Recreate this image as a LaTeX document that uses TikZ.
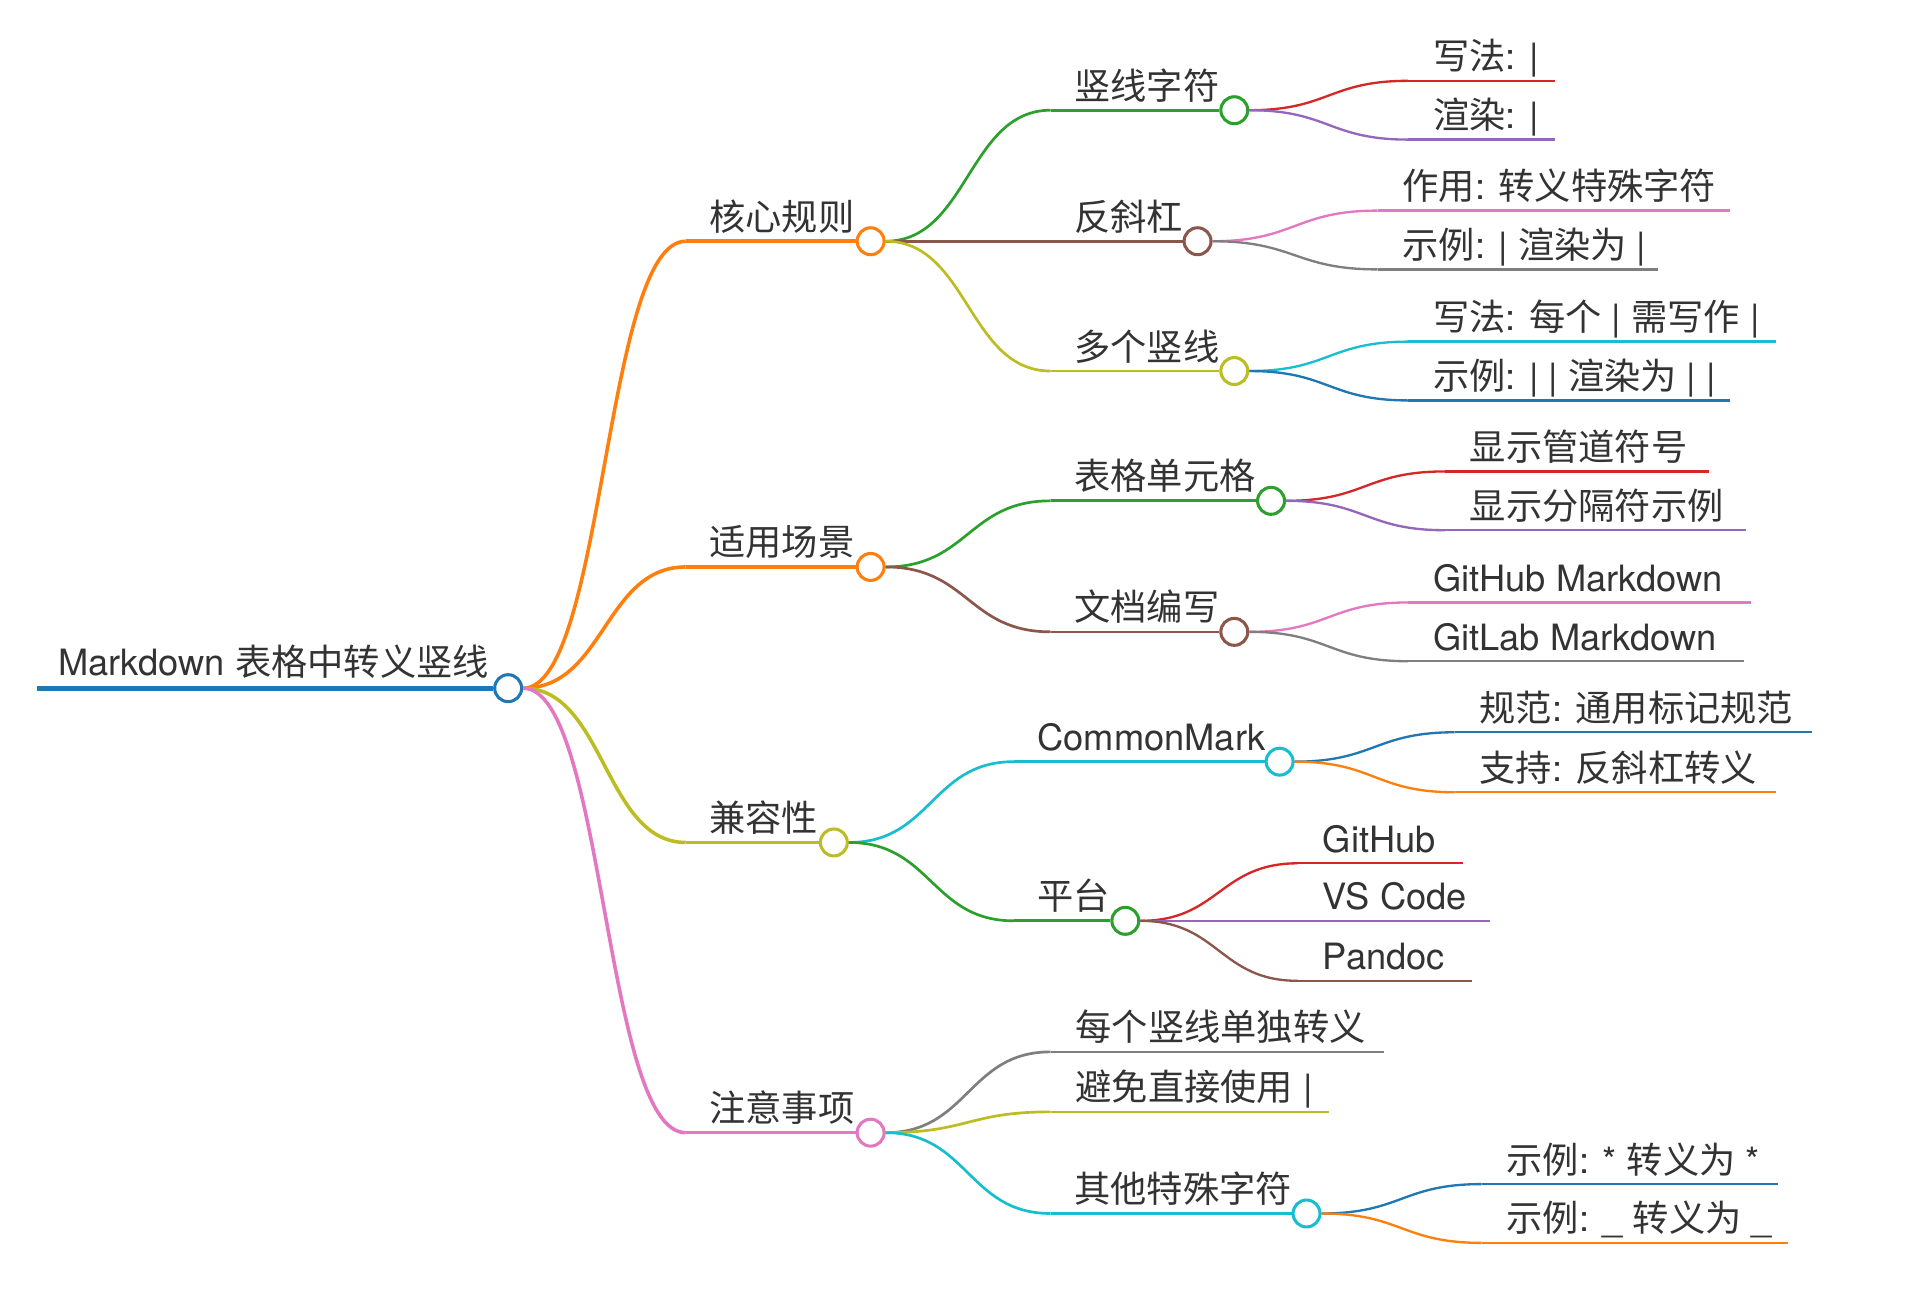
\documentclass[tikz,border=0pt]{standalone}
\usepackage{fontspec}
\setmainfont{TeX Gyre Heros}
\newfontfamily\cjk{Noto Sans CJK SC}
\usetikzlibrary{calc}
\newcommand\zh[1]{{\cjk #1}}
\definecolor{cblue}{HTML}{1F77B4}
\definecolor{corange}{HTML}{FF7F0E}
\definecolor{cgreen}{HTML}{2CA02C}
\definecolor{cred}{HTML}{D62728}
\definecolor{cpurple}{HTML}{9467BD}
\definecolor{cbrown}{HTML}{8C564B}
\definecolor{cpink}{HTML}{E377C2}
\definecolor{cgray}{HTML}{7F7F7F}
\definecolor{colive}{HTML}{BCBD22}
\definecolor{ccyan}{HTML}{17BECF}
\definecolor{tc}{HTML}{333333}
\tikzset{
  dot/.style={circle, fill=white, line width=1.25pt, minimum size=11pt, inner sep=0pt},
  lbl/.style={anchor=base west, inner sep=0pt, font=\fontsize{14.8}{17}\selectfont, text=tc},
}
% name, color, width, start x, circle x, y, text
\newcommand\hub[7]{%
  \coordinate (#1s) at (#4,#6);
  \node[dot, draw=#2] (#1) at (#5,#6) {};
  \draw[#2, line width=#3] (#1s) -- (#1.west);
  \node[lbl] (#1t) at (#4+19,#6-9) {#7};
}
% name, color, width, start x, end x, y, text
\newcommand\leaf[7]{%
  \coordinate (#1s) at (#4,#6);
  \coordinate (#1e) at (#5,#6);
  \draw[#2, line width=#3] (#1s) -- (#1e);
  \node[lbl] (#1t) at (#4+20,#6-9) {#7};
}
% color, width, from, to
\newcommand\link[4]{%
  \draw[#1, line width=#2] let \p1=(#3), \p2=(#4) in
    (\p1) .. controls ({0.5*(\x1+\x2)},\y1) and ({0.5*(\x1+\x2)},\y2) .. (\p2);
}
\begin{document}
\begin{tikzpicture}[x=0.5pt,y=-0.5pt]
\useasboundingbox[fill=white] (0,0) rectangle (1568,1067);
% root
\coordinate (rs) at (30,562);
\node[dot, draw=cblue] (root) at (415,562) {};
\draw[cblue, line width=2.1pt] (rs) -- (root.west);
\node[lbl] (roott) at (47,552) {Markdown \zh{表格中转义竖线}};
% level 1
\hub{a}{corange}{1.45pt}{560}{711}{197}{\zh{核心规则}}
\hub{b}{corange}{1.45pt}{560}{711}{463}{\zh{适用场景}}
\hub{c}{colive}{1.45pt}{560}{681}{688}{\zh{兼容性}}
\hub{d}{cpink}{1.45pt}{560}{711}{925}{\zh{注意事项}}
\link{corange}{1.45pt}{root.east}{as}
\link{corange}{1.45pt}{root.east}{bs}
\link{colive}{1.45pt}{root.east}{cs}
\link{cpink}{1.45pt}{root.east}{ds}
% level 2
\hub{a1}{cgreen}{1.1pt}{858}{1008}{90}{\zh{竖线字符}}
\hub{a2}{cbrown}{1.1pt}{858}{978}{197}{\zh{反斜杠}}
\hub{a3}{colive}{1.1pt}{858}{1008}{303}{\zh{多个竖线}}
\hub{b1}{cgreen}{1.1pt}{858}{1038}{409}{\zh{表格单元格}}
\hub{b2}{cbrown}{1.1pt}{858}{1008}{516}{\zh{文档编写}}
\hub{c1}{ccyan}{1.1pt}{828}{1045}{622}{CommonMark}
\hub{c2}{cgreen}{1.1pt}{828}{919}{752}{\zh{平台}}
\leaf{d1}{cgray}{1.1pt}{858}{1130}{859}{\zh{每个竖线单独转义}}
\leaf{d2}{colive}{1.1pt}{858}{1085}{908}{\zh{避免直接使用} |}
\hub{d3}{ccyan}{1.1pt}{858}{1067}{991}{\zh{其他特殊字符}}
\link{cgreen}{1.1pt}{a.east}{a1s}
\link{cbrown}{1.1pt}{a.east}{a2s}
\link{colive}{1.1pt}{a.east}{a3s}
\link{cgreen}{1.1pt}{b.east}{b1s}
\link{cbrown}{1.1pt}{b.east}{b2s}
\link{ccyan}{1.1pt}{c.east}{c1s}
\link{cgreen}{1.1pt}{c.east}{c2s}
\link{cgray}{1.1pt}{d.east}{d1s}
\link{colive}{1.1pt}{d.east}{d2s}
\link{ccyan}{1.1pt}{d.east}{d3s}
% level 3
\leaf{a11}{cred}{0.95pt}{1150}{1270}{66}{\zh{写法}: |}
\leaf{a12}{cpurple}{0.95pt}{1150}{1270}{114}{\zh{渲染}: |}
\leaf{a21}{cpink}{0.95pt}{1125}{1413}{172}{\zh{作用}: \zh{转义特殊字符}}
\leaf{a22}{cgray}{0.95pt}{1125}{1354}{220}{\zh{示例}: | \zh{渲染为} |}
\leaf{a31}{ccyan}{0.95pt}{1150}{1450}{279}{\zh{写法}: \zh{每个} | \zh{需写作} |}
\leaf{a32}{cblue}{0.95pt}{1150}{1413}{327}{\zh{示例}: | | \zh{渲染为} | |}
\leaf{b11}{cred}{0.95pt}{1180}{1396}{385}{\zh{显示管道符号}}
\leaf{b12}{cpurple}{0.95pt}{1180}{1426}{433}{\zh{显示分隔符示例}}
\leaf{b21}{cpink}{0.95pt}{1150}{1430}{492}{GitHub Markdown}
\leaf{b22}{cgray}{0.95pt}{1150}{1424}{540}{GitLab Markdown}
\leaf{c11}{cblue}{0.95pt}{1188}{1480}{598}{\zh{规范}: \zh{通用标记规范}}
\leaf{c12}{corange}{0.95pt}{1188}{1450}{647}{\zh{支持}: \zh{反斜杠转义}}
\leaf{c21}{cred}{0.95pt}{1060}{1195}{705}{GitHub}
\leaf{c22}{cpurple}{0.95pt}{1060}{1217}{752}{VS Code}
\leaf{c23}{cbrown}{0.95pt}{1060}{1202}{801}{Pandoc}
\leaf{d31}{cblue}{0.95pt}{1210}{1452}{967}{\zh{示例}: * \zh{转义为} *}
\leaf{d32}{corange}{0.95pt}{1210}{1460}{1015}{\zh{示例}: \_ \zh{转义为} \_}
\link{cred}{0.95pt}{a1.east}{a11s}
\link{cpurple}{0.95pt}{a1.east}{a12s}
\link{cpink}{0.95pt}{a2.east}{a21s}
\link{cgray}{0.95pt}{a2.east}{a22s}
\link{ccyan}{0.95pt}{a3.east}{a31s}
\link{cblue}{0.95pt}{a3.east}{a32s}
\link{cred}{0.95pt}{b1.east}{b11s}
\link{cpurple}{0.95pt}{b1.east}{b12s}
\link{cpink}{0.95pt}{b2.east}{b21s}
\link{cgray}{0.95pt}{b2.east}{b22s}
\link{cblue}{0.95pt}{c1.east}{c11s}
\link{corange}{0.95pt}{c1.east}{c12s}
\link{cred}{0.95pt}{c2.east}{c21s}
\link{cpurple}{0.95pt}{c2.east}{c22s}
\link{cbrown}{0.95pt}{c2.east}{c23s}
\link{cblue}{0.95pt}{d3.east}{d31s}
\link{corange}{0.95pt}{d3.east}{d32s}
\end{tikzpicture}
\end{document}
